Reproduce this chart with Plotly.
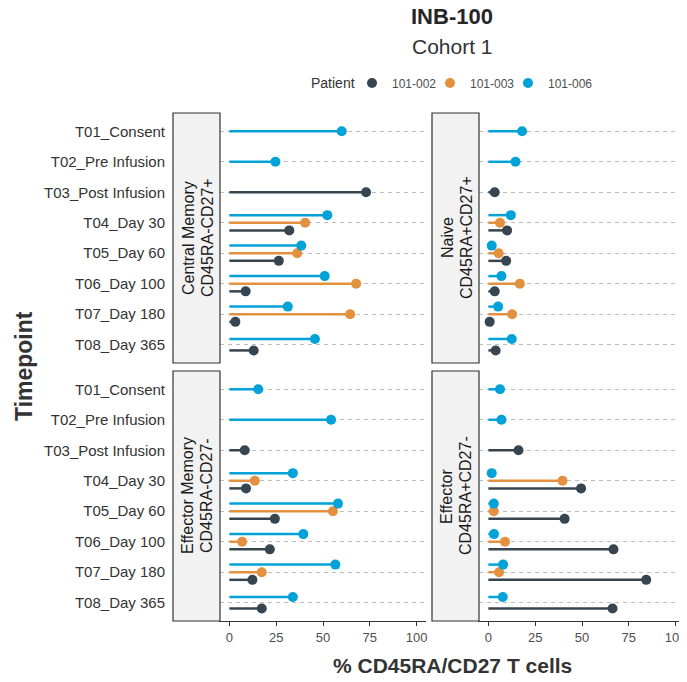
import plotly.graph_objects as go

W, H = 687, 682
OFF = 8  # page body margin in the browser
FW, FH = W - OFF, H - 2 * OFF

timepoints = ["T01_Consent", "T02_Pre Infusion", "T03_Post Infusion", "T04_Day 30",
              "T05_Day 60", "T06_Day 100", "T07_Day 180", "T08_Day 365"]
patients = ["101-002", "101-003", "101-006"]
patient_colors = ["#36454F", "#E3903F", "#00A2D8"]
x_ticks = [0, 25, 50, 75, 100]

# Central Memory CD45RA-CD27+
cm_002 = [None, None, 73.0, 32.0, 26.4, 8.7, 3.2, 13.0]
cm_003 = [None, None, None, 40.5, 36.2, 67.7, 64.5, None]
cm_006 = [60.0, 24.6, None, 52.3, 38.4, 50.9, 31.2, 45.7]
# Naive CD45RA+CD27+
nv_002 = [None, None, 3.4, 10.0, 9.5, 3.4, 0.7, 3.9]
nv_003 = [None, None, None, 6.2, 5.5, 16.8, 12.7, None]
nv_006 = [18.0, 14.5, None, 12.0, 1.8, 7.0, 5.2, 12.5]
# Effector Memory CD45RA-CD27-
em_002 = [None, None, 8.2, 8.9, 24.3, 21.6, 12.3, 17.3]
em_003 = [None, None, None, 13.6, 55.3, 6.8, 17.3, None]
em_006 = [15.4, 54.3, None, 33.9, 58.0, 39.5, 56.6, 33.9]
# Effector CD45RA+CD27-
ef_002 = [None, None, 16.1, 49.5, 40.7, 66.8, 84.3, 66.3]
ef_003 = [None, None, None, 39.6, 2.9, 8.9, 5.7, None]
ef_006 = [6.2, 7.0, None, 1.8, 2.9, 3.0, 7.9, 7.7]

panels = [
    ("Central Memory", "CD45RA-CD27+", [cm_002, cm_003, cm_006]),
    ("Naive", "CD45RA+CD27+", [nv_002, nv_003, nv_006]),
    ("Effector Memory", "CD45RA-CD27-", [em_002, em_003, em_006]),
    ("Effector", "CD45RA+CD27-", [ef_002, ef_003, ef_006]),
]

FONT = "Liberation Sans, Arial, sans-serif"
TXT = "#333333"


def px(x):
    return (x - OFF) / FW


def py(y):
    return (FH - (y - OFF)) / FH


# panel geometry (page pixels)
col_x = [(220, 426), (479, 685)]
strip_x = [(173, 220), (432, 479)]
row_y = [(113, 363), (371, 621)]

fig = go.Figure()

DODGE = 0.75
for p, (lab1, lab2, series) in enumerate(panels):
    ax = "" if p == 0 else str(p + 1)
    # dodge positions: top-to-bottom order 101-006, 101-003, 101-002
    pos = [[None] * len(timepoints) for _ in patients]
    for t in range(len(timepoints)):
        present = [k for k in (2, 1, 0) if series[k][t] is not None]
        n = len(present)
        for i, k in enumerate(present):
            pos[k][t] = (t + 1) + (i - (n - 1) / 2) * DODGE / n
    for k in range(len(patients)):
        sx, sy = [], []
        for t in range(len(timepoints)):
            v = series[k][t]
            if v is None:
                continue
            sx += [0, v, None]
            sy += [pos[k][t], pos[k][t], None]
        fig.add_trace(go.Scatter(x=sx, y=sy, mode="lines", xaxis="x" + ax, yaxis="y" + ax,
                                 line=dict(color=patient_colors[k], width=2.5),
                                 showlegend=False, hoverinfo="skip"))
    for k in range(len(patients)):
        xs = [series[k][t] for t in range(len(timepoints)) if series[k][t] is not None]
        ys = [pos[k][t] for t in range(len(timepoints)) if series[k][t] is not None]
        fig.add_trace(go.Scatter(x=xs, y=ys, mode="markers", xaxis="x" + ax, yaxis="y" + ax,
                                 marker=dict(color=patient_colors[k], size=10),
                                 name=patients[k], legendgroup=patients[k],
                                 showlegend=(p == 0)))

# invisible trailing legend entry so the last label is not clipped by the fixed entry width
fig.add_trace(go.Scatter(x=[None], y=[None], mode="markers", name=" ",
                         marker=dict(color="rgba(0,0,0,0)", size=1),
                         showlegend=True, hoverinfo="skip"))

layout = dict(
    width=FW, height=FH, margin=dict(l=0, r=0, t=0, b=0),
    paper_bgcolor="white", plot_bgcolor="white",
    font=dict(family=FONT, color=TXT),
    showlegend=True,
    legend=dict(orientation="h", x=px(352), xanchor="left", y=py(83), yanchor="middle",
                font=dict(size=12, color="#4D4D4D"), itemwidth=30, entrywidth=33,
                bgcolor="rgba(0,0,0,0)"),
)

shapes = []
annotations = []
for p, (lab1, lab2, series) in enumerate(panels):
    r, c = divmod(p, 2)
    ax = "" if p == 0 else str(p + 1)
    bottom = (r == 1)
    layout["xaxis" + ax] = dict(
        domain=[px(col_x[c][0]), px(col_x[c][1])], anchor="y" + ax,
        range=[-5, 105], tickvals=x_ticks, ticktext=[str(v) for v in x_ticks],
        showgrid=False, zeroline=False,
        showline=bottom, linecolor="#333333", linewidth=1.3,
        ticks="outside" if bottom else "", ticklen=4, tickcolor="#333333",
        showticklabels=bottom, tickfont=dict(size=13, color="#4D4D4D"),
    )
    layout["yaxis" + ax] = dict(
        domain=[py(row_y[r][1]), py(row_y[r][0])], anchor="x" + ax,
        range=[len(timepoints) + 0.6, 0.4],
        tickvals=list(range(1, len(timepoints) + 1)), ticktext=timepoints,
        showticklabels=(c == 0), ticks="", ticklabelstandoff=51,
        tickfont=dict(size=15, color=TXT),
        showgrid=True, gridcolor="#BEBEBE", gridwidth=1, griddash="4px,4px",
        zeroline=False, showline=True, linecolor="#333333", linewidth=1,
    )
    shapes.append(dict(type="rect", xref="paper", yref="paper",
                       x0=px(strip_x[c][0]), x1=px(strip_x[c][1]),
                       y0=py(row_y[r][1]), y1=py(row_y[r][0]),
                       fillcolor="#F2F2F2", line=dict(color="#333333", width=1.2), layer="above"))
    ymid = py((row_y[r][0] + row_y[r][1]) / 2)
    for j, lab in enumerate((lab1, lab2)):
        annotations.append(dict(text=lab, xref="paper", yref="paper",
                                x=px(strip_x[c][0] + 15 + 19 * j), y=ymid,
                                xanchor="center", yanchor="middle", textangle=-90,
                                showarrow=False, font=dict(size=16, color="#1A1A1A")))

annotations += [
    dict(text="<b>INB-100</b>", xref="paper", yref="paper", x=px(452), y=py(17),
         xanchor="center", yanchor="middle", showarrow=False, font=dict(size=22, color="#262626")),
    dict(text="Cohort 1", xref="paper", yref="paper", x=px(452), y=py(46),
         xanchor="center", yanchor="middle", showarrow=False, font=dict(size=21, color="#333333")),
    dict(text="Patient", xref="paper", yref="paper", x=px(357), y=py(83),
         xanchor="right", yanchor="middle", showarrow=False, font=dict(size=14, color=TXT)),
    dict(text="<b>% CD45RA/CD27 T cells</b>", xref="paper", yref="paper", x=px(452), y=py(665),
         xanchor="center", yanchor="middle", showarrow=False, font=dict(size=21, color=TXT)),
    dict(text="<b>Timepoint</b>", xref="paper", yref="paper", x=px(24), y=py(366),
         xanchor="center", yanchor="middle", textangle=-90, showarrow=False,
         font=dict(size=23, color=TXT)),
]

layout["shapes"] = shapes
layout["annotations"] = annotations
fig.update_layout(**layout)
fig.write_html("out.html")
